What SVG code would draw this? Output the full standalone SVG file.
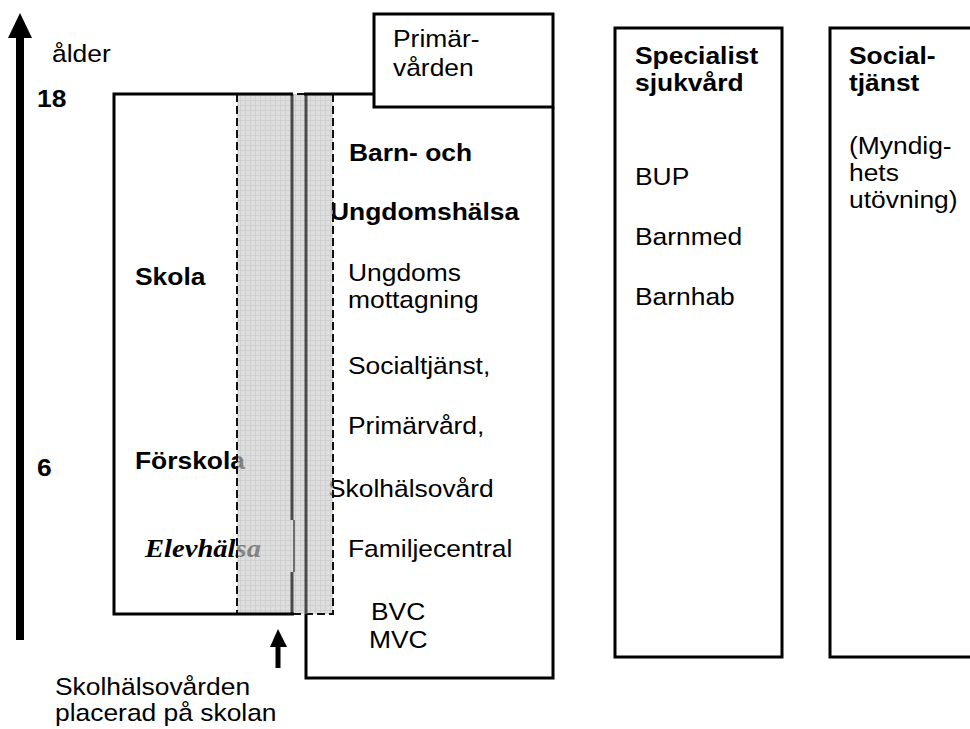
<svg xmlns="http://www.w3.org/2000/svg" width="970" height="729" viewBox="0 0 970 729">
<style>
.t{font-family:"Liberation Sans",Arial,sans-serif;font-size:24px;fill:#000}
.b{font-weight:bold}
.sf{font-family:"Liberation Serif","Times New Roman",serif;font-size:26px;font-weight:bold;font-style:italic}
.box{fill:none;stroke:#000;stroke-width:3}
.inner{fill:none;stroke:#4a4a4a;stroke-width:3}
</style>
<defs>
<pattern id="grid" width="5" height="5" patternUnits="userSpaceOnUse">
<rect width="5" height="5" fill="#cdcdcd"/>
<path d="M0 0.5H5M0.5 0V5" stroke="#b8b8b8" stroke-width="1"/>
</pattern>
</defs>
<rect width="970" height="729" fill="#fff"/>

<g id="axis">
<text class="t" transform="translate(52 62) scale(1.1 1)">ålder</text>
<text class="t b" transform="translate(37 107) scale(1.1 1)">18</text>
<text class="t b" transform="translate(37 476) scale(1.1 1)">6</text>
</g>

<g id="skola">
<text class="t b" transform="translate(135 285) scale(1.1 1)">Skola</text>
<text class="t b" transform="translate(135 469) scale(1.1 1)">Förskola</text>
<text class="sf" transform="translate(145 557) scale(1.1 1)">Elevhälsa</text>
</g>

<g id="barn-och-ungdomshalsa">
<text class="t b" transform="translate(349 161) scale(1.1 1)">Barn- och</text>
<text class="t b" transform="translate(330 220) scale(1.1 1)">Ungdomshälsa</text>
<text class="t" transform="translate(348 281) scale(1.1 1)">Ungdoms</text>
<text class="t" transform="translate(348 308) scale(1.1 1)">mottagning</text>
<text class="t" transform="translate(348 374) scale(1.1 1)">Socialtjänst,</text>
<text class="t" transform="translate(348 434) scale(1.1 1)">Primärvård,</text>
<text class="t" transform="translate(328 497) scale(1.1 1)">Skolhälsovård</text>
<text class="t" transform="translate(348 557) scale(1.1 1)">Familjecentral</text>
<text class="t" transform="translate(371 620) scale(1.1 1)">BVC</text>
<text class="t" transform="translate(369 648) scale(1.1 1)">MVC</text>
</g>

<g id="skolhalsovard-overlay">
<rect x="237" y="94" width="96" height="520" fill="url(#grid)" opacity="0.66"/>
<rect x="237" y="94" width="96" height="520" fill="none" stroke="#111" stroke-width="2" stroke-dasharray="8,4"/>
<line class="inner" x1="292" y1="94" x2="292" y2="520"/>
<line x1="294" y1="520" x2="294" y2="572" stroke="#4a4a4a" stroke-width="1.5"/>
<line class="inner" x1="292" y1="572" x2="292" y2="614"/>
<line class="inner" x1="306" y1="94" x2="306" y2="614"/>
</g>

<g id="skola-box">
<polyline class="box" points="293,94 114,94 114,614 294,614"/>
</g>

<g id="buh-box">
<polyline class="box" points="374,94 304,94"/>
<polyline class="box" points="306,614 306,678 553,678 553,107"/>
</g>

<g id="primarvarden">
<rect class="box" x="374" y="14" width="179" height="93" fill="#fff"/>
<text class="t" transform="translate(393 47) scale(1.1 1)">Primär-</text>
<text class="t" transform="translate(393 76) scale(1.1 1)">vården</text>
</g>

<g id="specialistsjukvard">
<rect class="box" x="615" y="28" width="167" height="629"/>
<text class="t b" transform="translate(635 64) scale(1.1 1)">Specialist</text>
<text class="t b" transform="translate(635 91) scale(1.1 1)">sjukvård</text>
<text class="t" transform="translate(635 185) scale(1.1 1)">BUP</text>
<text class="t" transform="translate(635 245) scale(1.1 1)">Barnmed</text>
<text class="t" transform="translate(635 305) scale(1.1 1)">Barnhab</text>
</g>

<g id="socialtjanst">
<rect class="box" x="830" y="28" width="160" height="629"/>
<text class="t b" transform="translate(849 64) scale(1.1 1)">Social-</text>
<text class="t b" transform="translate(849 91) scale(1.1 1)">tjänst</text>
<text class="t" transform="translate(849 154) scale(1.1 1)">(Myndig-</text>
<text class="t" transform="translate(849 181) scale(1.1 1)">hets</text>
<text class="t" transform="translate(849 208) scale(1.1 1)">utövning)</text>
</g>

<g id="note">
<text class="t" transform="translate(55 695) scale(1.1 1)">Skolhälsovården</text>
<text class="t" transform="translate(55 721) scale(1.1 1)">placerad på skolan</text>
</g>

<g id="connectors">
<line x1="20" y1="36" x2="20" y2="640" stroke="#000" stroke-width="8"/>
<polygon points="8,38 32,38 20,13" fill="#000"/>
<line x1="278" y1="668" x2="278" y2="645" stroke="#000" stroke-width="5"/>
<polygon points="270,647 287,647 278,629" fill="#000"/>
</g>
</svg>
